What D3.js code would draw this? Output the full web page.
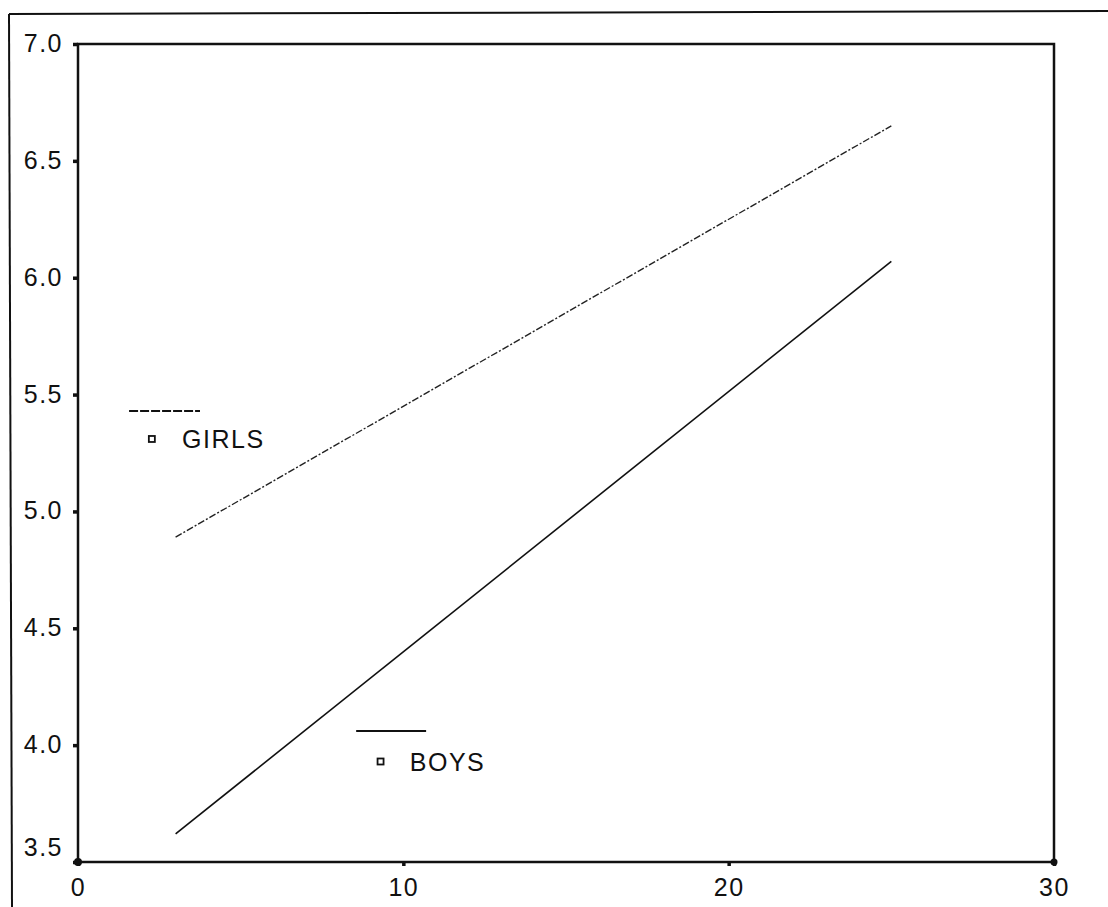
<!DOCTYPE html>
<html>
<head>
<meta charset="utf-8">
<script src="https://cdn.jsdelivr.net/npm/d3@7"></script>
<style>
  body { margin: 0; background: #fff; }
  text { font-family: "Liberation Sans", Arial, sans-serif; fill: #111; }
</style>
</head>
<body>
<div id="chart"></div>
<script>
// data
var xEnds = [3, 25];
var girls = [4.89, 6.65];
var boys = [3.62, 6.07];
var xTicks = [0, 10, 20, 30];
var yTicks = [3.5, 4.0, 4.5, 5.0, 5.5, 6.0, 6.5, 7.0];
var seriesNames = ["GIRLS", "BOYS"];

var W = 1108, H = 907;
var margin = {top: 44, right: 54, bottom: 45, left: 78},
    width = W - margin.left - margin.right,
    height = H - margin.top - margin.bottom;

var svg = d3.select("#chart").append("svg")
    .attr("width", W)
    .attr("height", H);

// outer frame (top + left only, as in the scan)
svg.append("line").attr("x1", 9).attr("y1", 14).attr("x2", W).attr("y2", 11)
    .attr("stroke", "#111").attr("stroke-width", 2);
svg.append("line").attr("x1", 9).attr("y1", 14).attr("x2", 12).attr("y2", H)
    .attr("stroke", "#111").attr("stroke-width", 2);

var g = svg.append("g")
    .attr("transform", "translate(" + margin.left + "," + margin.top + ")");

var x = d3.scaleLinear().domain([0, 30]).range([0, width]);
var y = d3.scaleLinear().domain([3.5, 7.0]).range([height, 0]);

// plot box
g.append("rect")
    .attr("width", width).attr("height", height)
    .attr("fill", "none").attr("stroke", "#111").attr("stroke-width", 2.5);

// Y axis
var yAxis = g.append("g")
    .call(d3.axisLeft(y).tickValues(yTicks).tickFormat(d3.format(".1f")).tickSize(5).tickPadding(10));
yAxis.select(".domain").remove();
yAxis.selectAll("line").attr("stroke", "#111").attr("stroke-width", 3.5);
yAxis.selectAll("text")
    .style("font-size", "25px").style("letter-spacing", "1.5px")
    .attr("dy", function(d) { return d === 3.5 ? "-0.25em" : "0.3em"; });

// X axis
var xAxis = g.append("g")
    .attr("transform", "translate(0," + height + ")")
    .call(d3.axisBottom(x).tickValues(xTicks).tickSize(4).tickPadding(17));
xAxis.select(".domain").remove();
xAxis.selectAll("line").attr("stroke", "#111").attr("stroke-width", 3.5);
xAxis.selectAll("text")
    .style("font-size", "25px").style("letter-spacing", "1.5px")
    .attr("dy", "0.5em");

// corner dots
g.append("circle").attr("cx", x(0)).attr("cy", y(3.5)).attr("r", 4).attr("fill", "#111");
g.append("circle").attr("cx", x(30)).attr("cy", y(3.5)).attr("r", 3.5).attr("fill", "#111");

var line = d3.line()
    .x(function(d) { return x(d[0]); })
    .y(function(d) { return y(d[1]); });

g.append("path")
    .datum(d3.zip(xEnds, girls))
    .attr("d", line)
    .attr("fill", "none").attr("stroke", "#222").attr("stroke-width", 1.4)
    .attr("stroke-dasharray", "7,2,2,2");

g.append("path")
    .datum(d3.zip(xEnds, boys))
    .attr("d", line)
    .attr("fill", "none").attr("stroke", "#111").attr("stroke-width", 1.6);

// legend labels placed inside the plot
var legends = [
  {name: seriesNames[0], lx: [1.57, 3.75], ly: 5.43, mx: 2.27, my: 5.31, tx: 3.2, dash: "9,2"},
  {name: seriesNames[1], lx: [8.55, 10.7], ly: 4.06, mx: 9.3, my: 3.93, tx: 10.2, dash: null}
];

legends.forEach(function(l) {
  g.append("line")
      .attr("x1", x(l.lx[0])).attr("x2", x(l.lx[1]))
      .attr("y1", y(l.ly)).attr("y2", y(l.ly))
      .attr("stroke", "#111").attr("stroke-width", 2)
      .attr("stroke-dasharray", l.dash);
  g.append("rect")
      .attr("x", x(l.mx) - 3).attr("y", y(l.my) - 3)
      .attr("width", 6).attr("height", 6)
      .attr("fill", "none").attr("stroke", "#111").attr("stroke-width", 1.8);
  g.append("text")
      .attr("x", x(l.tx)).attr("y", y(l.my))
      .attr("dy", "0.36em")
      .style("font-size", "25px").style("letter-spacing", "1.5px")
      .text(l.name);
});
</script>
</body>
</html>
